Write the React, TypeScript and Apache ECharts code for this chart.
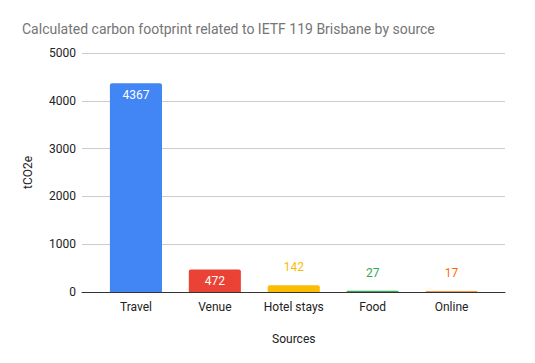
import React, { useEffect, useRef } from "react";
import * as echarts from "echarts";

const categories = ["Travel", "Venue", "Hotel stays", "Food", "Online"];
const values = [4367, 472, 142, 27, 17];
const colors = ["#4285F4", "#EA4335", "#FBBC04", "#34A853", "#FF6D01"];
const insideLabel = [true, true, false, false, false];
const yTicks = { min: 0, max: 5000, interval: 1000 };

export default function App() {
  const ref = useRef<HTMLDivElement>(null);
  useEffect(() => {
    if (!ref.current) return;
    const chart = echarts.init(ref.current, null, { renderer: "svg" });
    chart.setOption({
      animation: false,
      backgroundColor: "#ffffff",
      textStyle: { fontFamily: "Roboto" },
      title: {
        text: "Calculated carbon footprint related to IETF 119 Brisbane by source",
        left: 17,
        top: 17,
        textStyle: { fontSize: 14, fontWeight: "normal", color: "#757575", fontFamily: "Roboto" },
      },
      grid: [
        { left: 82, right: 30, top: 53, bottom: 71, containLabel: false },
        { left: 96.5, right: 44, top: 53, bottom: 71, containLabel: false },
      ],
      xAxis: [
        {
          type: "category",
          gridIndex: 0,
          data: categories,
          axisTick: { show: false },
          axisLabel: { show: false },
          axisLine: { lineStyle: { color: "#333", width: 1 } },
          z: 5,
        },
        {
          type: "category",
          gridIndex: 1,
          data: categories,
          name: "Sources",
          nameLocation: "middle",
          nameGap: 41,
          nameTextStyle: { color: "#222", fontSize: 12 },
          axisTick: { show: false },
          axisLine: { show: false },
          axisLabel: { color: "#222", fontSize: 12, margin: 9 },
        },
      ],
      yAxis: [
        {
          type: "value",
          gridIndex: 0,
          min: yTicks.min,
          max: yTicks.max,
          interval: yTicks.interval,
          name: "tCO2e",
          nameLocation: "middle",
          nameGap: 48,
          nameRotate: 90,
          nameTextStyle: { color: "#222", fontSize: 12 },
          axisLabel: { color: "#222", fontSize: 12, margin: 6, formatter: (v: number) => String(v) },
          splitLine: { lineStyle: { color: "#cccccc" } },
          axisLine: { show: false },
          axisTick: { show: false },
        },
        {
          type: "value",
          gridIndex: 1,
          min: yTicks.min,
          max: yTicks.max,
          interval: yTicks.interval,
          axisLabel: { show: false },
          splitLine: { show: false },
          axisLine: { show: false },
          axisTick: { show: false },
        },
      ],
      series: [
        {
          type: "bar",
          xAxisIndex: 1,
          yAxisIndex: 1,
          barWidth: "66%",
          z: 3,
          data: values.map((v, i) => ({
            value: v,
            itemStyle: { color: colors[i], borderRadius: [2, 2, 0, 0] },
            label: insideLabel[i]
              ? { show: true, position: "insideTop", distance: 6, color: "#ffffff", fontSize: 12 }
              : { show: true, position: "top", distance: 12, color: colors[i], fontSize: 12 },
          })),
        },
      ],
    });
    return () => chart.dispose();
  }, []);
  return <div ref={ref} style={{ position: "fixed", left: 0, top: 0, width: 535, height: 363 }} />;
}
